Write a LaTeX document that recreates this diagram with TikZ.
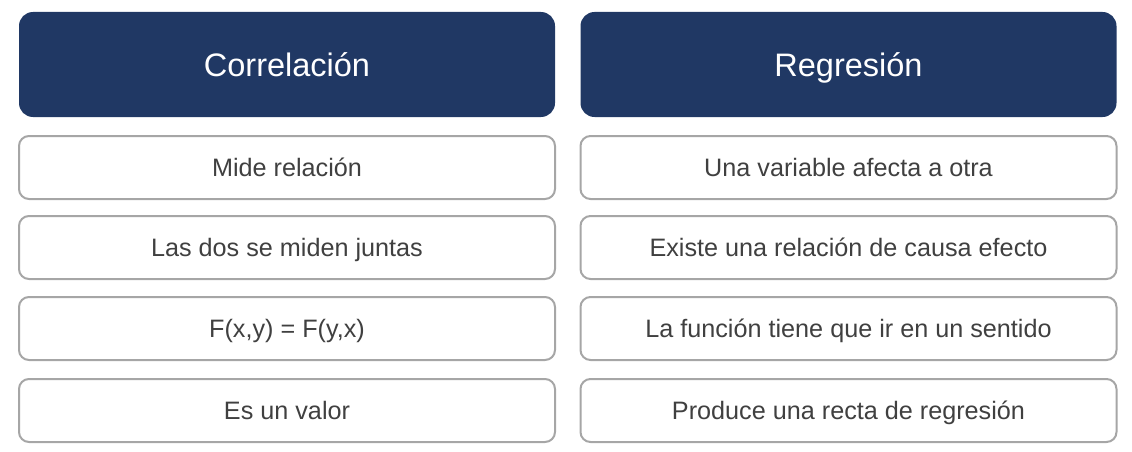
\documentclass[tikz,border=0pt]{standalone}
\usepackage{fontspec}
\setmainfont{Liberation Sans}
\definecolor{headblue}{HTML}{203864}
\definecolor{rimgray}{HTML}{A6A6A6}
\definecolor{textgray}{HTML}{404040}
\newcommand{\colw}{536pt}
\newcommand{\lx}{287}
\newcommand{\rx}{848.5}

\begin{document}
\begin{tikzpicture}[x=1pt,y=-1pt,
    head/.style={rectangle, rounded corners=14pt, fill=headblue, text=white, minimum width=\colw, minimum height=105pt, inner sep=0pt, text height=23.4pt, text depth=0pt, font=\fontsize{32.5}{38}\selectfont},
    cell/.style={rectangle, rounded corners=10pt, draw=rimgray, line width=2pt, fill=white, text=textgray, minimum width=\colw, minimum height=63pt, inner sep=0pt, text height=18.1pt, text depth=0pt, font=\fontsize{25.2}{30}\selectfont}]
    \useasboundingbox (0,0) rectangle (1132,452);

    % Left column
    \node[head] (head-1) at (\lx,64.5) {Correlación};
    \node[cell] (cell-1-1) at (\lx,167.5) {Mide relación};
    \node[cell] (cell-1-2) at (\lx,247.5) {Las dos se miden juntas};
    \node[cell] (cell-1-3) at (\lx,328.5) {F(x,y) = F(y,x)};
    \node[cell] (cell-1-4) at (\lx,410.5) {Es un valor};

    % Right column
    \node[head] (head-2) at (\rx,64.5) {Regresión};
    \node[cell] (cell-2-1) at (\rx,167.5) {Una variable afecta a otra};
    \node[cell] (cell-2-2) at (\rx,247.5) {Existe una relación de causa efecto};
    \node[cell] (cell-2-3) at (\rx,328.5) {La función tiene que ir en un sentido};
    \node[cell] (cell-2-4) at (\rx,410.5) {Produce una recta de regresión};

\end{tikzpicture}
\end{document}
